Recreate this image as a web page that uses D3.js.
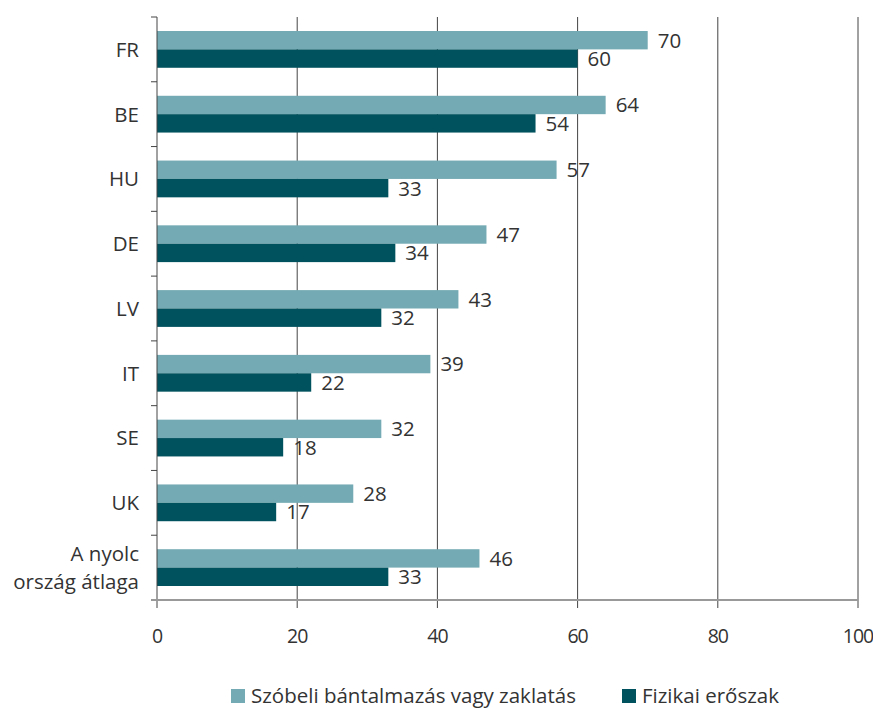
<!DOCTYPE html>
<html>
<head>
<meta charset="utf-8">
<script src="https://cdn.jsdelivr.net/npm/d3@7"></script>
<style>
  body { margin: 0; background: #fff; }
  text { font-family: "Open Sans", "Noto Sans", sans-serif; fill: #333; }
</style>
</head>
<body>
<svg id="chart" width="873" height="709"></svg>
<script>
// data
const categories = ["FR", "BE", "HU", "DE", "LV", "IT", "SE", "UK", "A nyolc\nország átlaga"]
const verbal = [70, 64, 57, 47, 43, 39, 32, 28, 46]
const physical = [60, 54, 33, 34, 32, 22, 18, 17, 33]
const seriesNames = ["Szóbeli bántalmazás vagy zaklatás", "Fizikai erőszak"]
const xTicks = [0, 20, 40, 60, 80, 100]

const colors = ["#74aab3", "#00525e"]
const fontSize = "20.5px"
const margin = { top: 17, left: 157, right: 15, bottom: 109 }
const height = 709 - margin.top - margin.bottom

const svg = d3.select("#chart")
const g = svg.append("g").attr("transform", "translate(" + margin.left + "," + margin.top + ")")

const x = d3.scaleLinear().domain([0, 100]).range([0, 701])
const y = d3.scaleBand().domain(categories).range([0, height]).padding(0)
const inner = d3.scaleBand().domain([0, 1]).range([14, y.bandwidth() - 14])

// gridlines
g.append("g")
  .selectAll("line")
  .data(xTicks.slice(1))
  .enter().append("line")
    .attr("x1", d => x(d)).attr("x2", d => x(d))
    .attr("y1", 0).attr("y2", height + 8)
    .attr("stroke", "#444").attr("stroke-width", 1)

// bars
const rows = categories.map((c, i) => ({ cat: c, vals: [verbal[i], physical[i]] }))
const row = g.append("g").selectAll("g")
  .data(rows)
  .enter().append("g")
    .attr("transform", d => "translate(0," + y(d.cat) + ")")

row.selectAll("rect")
  .data(d => d.vals)
  .enter().append("rect")
    .attr("x", 0)
    .attr("y", (d, i) => inner(i))
    .attr("width", d => x(d))
    .attr("height", inner.bandwidth())
    .attr("fill", (d, i) => colors[i])

row.selectAll("text.val")
  .data(d => d.vals)
  .enter().append("text")
    .attr("class", "val")
    .attr("x", d => x(d) + 10)
    .attr("y", (d, i) => inner(i) + inner.bandwidth() / 2)
    .attr("dy", "0.36em")
    .style("font-size", fontSize)
    .text(d => d)

// y axis
g.append("line")
  .attr("x1", 0).attr("x2", 0).attr("y1", 0).attr("y2", height + 8)
  .attr("stroke", "#444")
g.append("g")
  .selectAll("line")
  .data(d3.range(categories.length))
  .enter().append("line")
    .attr("x1", -6).attr("x2", 0)
    .attr("y1", d => y(categories[d])).attr("y2", d => y(categories[d]))
    .attr("stroke", "#444")

// category labels, multi-line ones as separate texts
const labelG = g.append("g")
categories.forEach(c => {
  const lines = c.split("\n")
  const mid = y(c) + y.bandwidth() / 2
  lines.forEach((l, i) => {
    labelG.append("text")
      .attr("text-anchor", "end")
      .attr("x", -18)
      .attr("y", mid + (i - (lines.length - 1) / 2) * 28)
      .attr("dy", "0.36em")
      .style("font-size", fontSize)
      .text(l)
  })
})

// x axis
g.append("line")
  .attr("x1", -6).attr("x2", x(100)).attr("y1", height).attr("y2", height)
  .attr("stroke", "#999").attr("stroke-width", 2)
g.append("g")
  .selectAll("text")
  .data(xTicks)
  .enter().append("text")
    .attr("x", d => x(d))
    .attr("y", height + 36)
    .attr("dy", "0.36em")
    .attr("text-anchor", "middle")
    .style("font-size", "19.5px")
    .style("letter-spacing", "-1px")
    .text(d => d)

// legend
const legend = svg.append("g").attr("transform", "translate(231,689)")
const legX = [0, 391]
seriesNames.forEach((name, i) => {
  legend.append("rect")
    .attr("x", legX[i]).attr("y", 0).attr("width", 14).attr("height", 14)
    .attr("fill", colors[i])
  legend.append("text")
    .attr("x", legX[i] + 20).attr("y", 7).attr("dy", "0.36em")
    .style("font-size", fontSize)
    .text(name)
})
</script>
</body>
</html>
